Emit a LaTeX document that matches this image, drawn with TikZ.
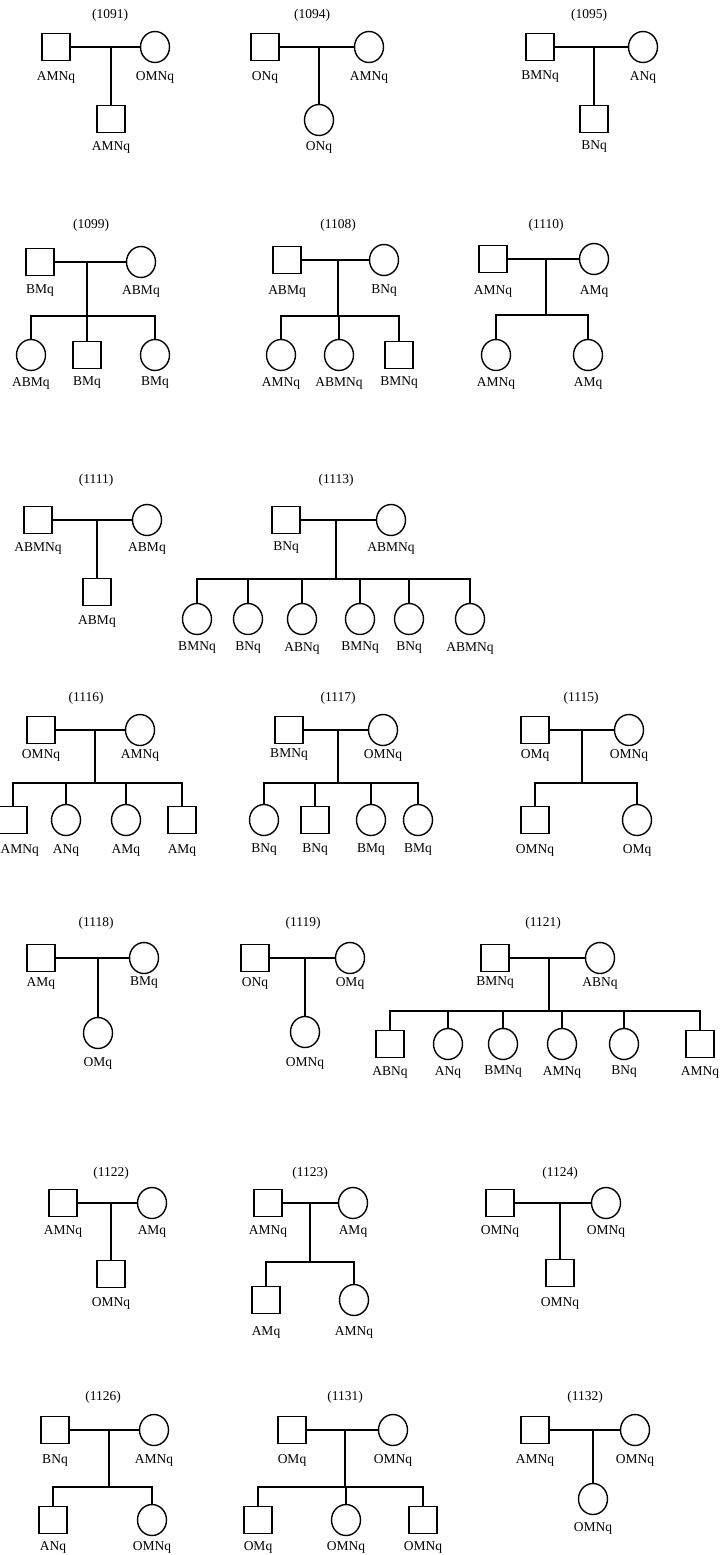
\documentclass[tikz,border=0pt]{standalone}
\usepackage{fontspec}
\setmainfont{Liberation Serif}
\usepackage{tikz}
\usetikzlibrary{shapes.geometric}

\tikzset{
  male/.style={draw, line width=1.4pt, minimum width=28pt, minimum height=27pt, inner sep=0pt},
  female/.style={draw, ellipse, line width=1.4pt, minimum width=29pt, minimum height=31pt, inner sep=0pt},
  lbl/.style={font=\fontsize{13.5}{15}\selectfont, inner sep=0pt},
  ttl/.style={font=\fontsize{13.5}{15}\selectfont, inner sep=0pt},
  link/.style={line width=1.4pt}
}

\begin{document}
\begin{tikzpicture}[x=1pt, y=-1pt]
  \useasboundingbox (0,0) rectangle (724,1555);

  % parents of every family
  \foreach \n/\tx/\ty/\y/\ly/\fx/\mx/\dx/\fl/\ml in {
      1091/110/15/47/77/56/155/111/AMNq/OMNq,
      1094/312/15/47/77/265/369/319/ONq/AMNq,
      1095/589/15/47/77/540/643/594/BMNq/ANq,
      1099/91/225/262/291/40/141/87/BMq/ABMq,
      1108/338/225/260/291/287/384/338/ABMq/BNq,
      1110/546/225/259/291/493/594/546/AMNq/AMq,
      1111/96/480/520/548/38/147/97/ABMNq/ABMq,
      1113/336/480/520/548/286/391/336/BNq/ABMNq,
      1116/86/698/730/755/41/140/95/OMNq/AMNq,
      1117/338/698/730/755/289/383/338/BMNq/OMNq,
      1115/581/698/730/755/535/629/582/OMq/OMNq,
      1118/96/923/958/983/41/144/98/AMq/BMq,
      1119/303/923/958/983/255/350/305/ONq/OMq,
      1121/543/923/958/983/495/600/549/BMNq/ABNq,
      1122/111/1173/1203/1231/63/152/111/AMNq/AMq,
      1123/310/1173/1203/1231/268/353/310/AMNq/AMq,
      1124/560/1173/1203/1231/500/606/560/OMNq/OMNq,
      1126/103/1397/1430/1460/55/154/109/BNq/AMNq,
      1131/345/1397/1430/1460/292/393/345/OMq/OMNq,
      1132/585/1397/1430/1460/535/635/593/AMNq/OMNq} {
    \node[ttl] (t\n) at (\tx,\ty) {(\n)};
    \node[male] (f\n) at (\fx,\y) {};
    \node[female] (m\n) at (\mx,\y) {};
    \node[lbl] (lf\n) at (\fx,\ly) {\fl};
    \node[lbl] (lm\n) at (\mx,\ly) {\ml};
    \draw[link] (f\n) -- (m\n);
    \coordinate (d\n) at (\dx,\y);
  }

  % families with one child
  \foreach \n/\x/\y/\ly/\s/\t in {
      1091/111/119/147/male/AMNq,
      1094/319/120/147/female/ONq,
      1095/594/119/147/male/BNq,
      1111/97/592/621/male/ABMq,
      1118/98/1033/1063/female/OMq,
      1119/305/1032/1063/female/OMNq,
      1122/111/1274/1303/male/OMNq,
      1124/560/1273/1303/male/OMNq,
      1132/593/1499/1528/female/OMNq} {
    \node[\s] (c\n) at (\x,\y) {};
    \node[lbl] (lc\n) at (\x,\ly) {\t};
    \draw[link] (d\n) -- (c\n);
  }

  % families with several children
  \coordinate (s1099) at (87,316);
  \draw[link] (d1099) -- (s1099);
  \foreach \k/\x/\s/\t in {1/31/female/ABMq, 2/87/male/BMq, 3/155/female/BMq} {
    \node[\s] (c1099-\k) at (\x,355) {};
    \node[lbl] (l1099-\k) at (\x,383) {\t};
    \draw[link] (s1099) -| (c1099-\k);
  }

  \coordinate (s1108) at (338,316);
  \draw[link] (d1108) -- (s1108);
  \foreach \k/\x/\s/\t in {1/281/female/AMNq, 2/339/female/ABMNq, 3/399/male/BMNq} {
    \node[\s] (c1108-\k) at (\x,355) {};
    \node[lbl] (l1108-\k) at (\x,383) {\t};
    \draw[link] (s1108) -| (c1108-\k);
  }

  \coordinate (s1110) at (546,315);
  \draw[link] (d1110) -- (s1110);
  \foreach \k/\x/\s/\t in {1/496/female/AMNq, 2/588/female/AMq} {
    \node[\s] (c1110-\k) at (\x,355) {};
    \node[lbl] (l1110-\k) at (\x,383) {\t};
    \draw[link] (s1110) -| (c1110-\k);
  }

  \coordinate (s1113) at (336,579);
  \draw[link] (d1113) -- (s1113);
  \foreach \k/\x/\t in {1/197/BMNq, 2/248/BNq, 3/302/ABNq, 4/360/BMNq, 5/409/BNq, 6/470/ABMNq} {
    \node[female] (c1113-\k) at (\x,619) {};
    \node[lbl] (l1113-\k) at (\x,648) {\t};
    \draw[link] (s1113) -| (c1113-\k);
  }

  \coordinate (s1116) at (95,783);
  \draw[link] (d1116) -- (s1116);
  \foreach \k/\x/\s/\t in {1/13/male/AMNq, 2/66/female/ANq, 3/126/female/AMq, 4/182/male/AMq} {
    \node[\s] (c1116-\k) at (\x,820) {};
    \draw[link] (s1116) -| (c1116-\k);
  }
  \node[lbl, anchor=west] (l1116-1) at (0.5,850) {AMNq};
  \foreach \k/\x/\t in {2/66/ANq, 3/126/AMq, 4/182/AMq}
    \node[lbl] (l1116-\k) at (\x,850) {\t};

  \coordinate (s1117) at (338,783);
  \draw[link] (d1117) -- (s1117);
  \foreach \k/\x/\s/\t in {1/264/female/BNq, 2/315/male/BNq, 3/371/female/BMq, 4/418/female/BMq} {
    \node[\s] (c1117-\k) at (\x,820) {};
    \node[lbl] (l1117-\k) at (\x,850) {\t};
    \draw[link] (s1117) -| (c1117-\k);
  }

  \coordinate (s1115) at (582,783);
  \draw[link] (d1115) -- (s1115);
  \foreach \k/\x/\s/\t in {1/535/male/OMNq, 2/637/female/OMq} {
    \node[\s] (c1115-\k) at (\x,820) {};
    \node[lbl] (l1115-\k) at (\x,850) {\t};
    \draw[link] (s1115) -| (c1115-\k);
  }

  \coordinate (s1121) at (549,1011);
  \draw[link] (d1121) -- (s1121);
  \foreach \k/\x/\s/\t in {1/390/male/ABNq, 2/448/female/ANq, 3/503/female/BMNq,
                           4/562/female/AMNq, 5/624/female/BNq, 6/700/male/AMNq} {
    \node[\s] (c1121-\k) at (\x,1044) {};
    \node[lbl] (l1121-\k) at (\x,1072) {\t};
    \draw[link] (s1121) -| (c1121-\k);
  }

  \coordinate (s1123) at (310,1262);
  \draw[link] (d1123) -- (s1123);
  \foreach \k/\x/\s/\t in {1/266/male/AMq, 2/354/female/AMNq} {
    \node[\s] (c1123-\k) at (\x,1300) {};
    \node[lbl] (l1123-\k) at (\x,1332) {\t};
    \draw[link] (s1123) -| (c1123-\k);
  }

  \coordinate (s1126) at (109,1487);
  \draw[link] (d1126) -- (s1126);
  \foreach \k/\x/\s/\t in {1/53/male/ANq, 2/152/female/OMNq} {
    \node[\s] (c1126-\k) at (\x,1520) {};
    \node[lbl] (l1126-\k) at (\x,1547) {\t};
    \draw[link] (s1126) -| (c1126-\k);
  }

  \coordinate (s1131) at (345,1487);
  \draw[link] (d1131) -- (s1131);
  \foreach \k/\x/\s/\t in {1/258/male/OMq, 2/346/female/OMNq, 3/423/male/OMNq} {
    \node[\s] (c1131-\k) at (\x,1520) {};
    \node[lbl] (l1131-\k) at (\x,1547) {\t};
    \draw[link] (s1131) -| (c1131-\k);
  }
\end{tikzpicture}
\end{document}
